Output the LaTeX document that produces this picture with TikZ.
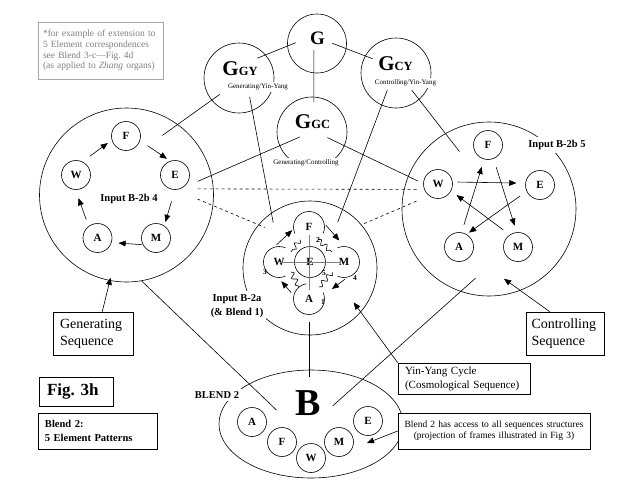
\documentclass[tikz,border=0pt]{standalone}
\usepackage{fontspec}
\setmainfont{Liberation Serif}
\usetikzlibrary{arrows,shapes,decorations.pathmorphing}
\newcommand{\gname}[1]{\textbf{\fontsize{21}{21}\selectfont G\fontsize{12.5}{12.5}\selectfont #1}}

\begin{document}
\begin{tikzpicture}[x=1pt, y=-1pt, line width=0.6pt,
    zone/.style={circle, draw, inner sep=0pt},
    elem/.style={circle, draw, minimum size=29pt, inner sep=0pt, font=\bfseries\fontsize{11}{11}\selectfont},
    bare/.style={circle, minimum size=31pt, inner sep=0pt, outer sep=0pt, font=\bfseries\fontsize{11}{11}\selectfont},
    tag/.style={fill=white, inner sep=2pt, font=\fontsize{7}{8}\selectfont},
    head/.style={fill=white, inner sep=3pt, align=center, font=\bfseries\fontsize{10.5}{14}\selectfont},
    box/.style={draw, fill=white, align=left, inner ysep=0pt},
    num/.style={inner sep=0pt, font=\bfseries\fontsize{7.5}{8}\selectfont},
    flow/.style={-triangle 45},
    wave/.style={decorate, decoration={snake, amplitude=2.5pt, segment length=7.5pt}}]
    \useasboundingbox (0,0) rectangle (638,493);

    % generic spaces
    \node[zone, minimum size=59pt] (G) at (317,43.5) {};
    \node[zone, minimum size=70pt] (GGY) at (239,78) {};
    \node[zone, minimum size=70pt] (GCY) at (396,73) {};
    \node[zone, minimum size=70pt] (GGC) at (312,132) {};
    \node[font=\bfseries\fontsize{19}{19}\selectfont] (Gt) at (317.5,38.5) {G};
    \node (GGYt) at (240,69) {\gname{GY}};
    \node (GCYt) at (395.5,64) {\gname{CY}};
    \node (GGCt) at (312.5,122) {\gname{GC}};

    % input spaces and blend
    \node[zone, minimum size=174pt] (L) at (126.5,195) {};
    \node[zone, minimum size=174pt] (R) at (489,209) {};
    \node[zone, minimum size=134pt] (C) at (310,268) {};
    \node[ellipse, draw, minimum width=184pt, minimum height=108pt, inner sep=0pt] (B2) at (311,424) {};
    \node[inner sep=0pt, font=\bfseries\fontsize{38}{38}\selectfont] (Bt) at (308,403) {B};

    % generating sequence
    \node[elem] (LF) at (126,136) {F};
    \node[elem] (LE) at (175,175) {E};
    \node[elem] (LW) at (76,175) {W};
    \node[elem] (LA) at (97.5,238) {A};
    \node[elem] (LM) at (156,238) {M};
    \path[flow] (LW.64) edge[shorten <=9pt, shorten >=5pt] (LF.196)
          (LF.342) edge[shorten <=9pt, shorten >=4pt] (LE.109)
          (LE.270) edge[shorten <=12pt, shorten >=4pt] (LM.56)
          (LM.207) edge[shorten <=1pt, shorten >=7pt] (LA.342)
          (LA.127) edge[shorten <=7pt, shorten >=9pt] (LW.268);

    % controlling sequence
    \node[elem] (RF) at (488,145) {F};
    \node[elem] (RW) at (438,184) {W};
    \node[elem] (RE) at (540,185) {E};
    \node[elem] (RA) at (459,247) {A};
    \node[elem] (RM) at (518,247) {M};
    \path[flow] (RW.8) edge[shorten <=5pt, shorten >=9pt] (RE.173)
          (RE.205) edge[shorten <=8pt, shorten >=3pt] (RA.59)
          (RA.80) edge[shorten <=8pt, shorten >=8pt] (RF.255)
          (RF.292) edge[shorten <=9pt, shorten >=7pt] (RM.95)
          (RM.124) edge[shorten <=8pt, shorten >=7pt] (RW.332);

    % yin-yang cycle
    \node[bare] (CF) at (309,227) {F};
    \node[bare] (CW) at (279,262) {W};
    \node[bare] (CM) at (344,262) {M};
    \node[bare] (CA) at (309,299) {A};
    \node[elem, minimum size=31pt] (CE) at (310,262) {E};
    \draw (CF.-25) arc[start angle=25, end angle=-205, radius=15.5];
    \draw (CW.65) arc[start angle=-65, end angle=-295, radius=15.5];
    \draw (CM.-115) arc[start angle=115, end angle=-115, radius=15.5];
    \draw (CA.100) arc[start angle=-100, end angle=-385, radius=15.5];
    \draw[gray, shorten <=1pt, shorten >=4pt] (CW.center) -- (CM.center);
    \draw[gray, shorten <=8pt, shorten >=9pt] (CF.center) -- (CA.center);
    \draw[wave] (CF.235) -- (CW.40);
    \draw[wave] (CF.305) -- (CM.140);
    \draw[wave] (CW.-40) -- (CA.130);
    \draw[wave] (CM.220) -- (CA.50);
    \path[flow] (CW.110) edge[shorten <=4pt, shorten >=2pt] (CF.187)
          (CF.15) edge[shorten <=3pt, shorten >=8pt] (CM.88)
          (CM.285) edge[shorten <=4pt, shorten >=10pt] (CA.15)
          (CA.168) edge[shorten <=4pt, shorten >=5pt] (CW.267);
    \node[num] (n2) at (318,240) {2};
    \node[num] (n3) at (265,272) {3};
    \node[num] (n5) at (324,273) {5};
    \node[num] (n4) at (355,278) {4};
    \node[num] (n1) at (323,302) {1};

    % blend elements
    \node[elem] (BA) at (252,422) {A};
    \node[elem] (BF) at (282,442) {F};
    \node[elem] (BW) at (311,458) {W};
    \node[elem] (BM) at (339,442) {M};
    \node[elem] (BE) at (368,421) {E};

    % projections
    \draw[shorten <=-9pt, shorten >=-9pt] (GGY.41) -- (G.185);
    \draw[shorten <=-15pt, shorten >=-8pt] (G.350) -- (GCY.151);
    \draw[shorten <=-23pt, shorten >=-5pt] (G.264) -- (GGC.87);
    \draw[shorten <=-10pt, shorten >=-19pt] (GGY.219) -- (L.54);
    \draw[shorten <=-14pt, shorten >=-10pt] (GGY.292) -- (C.125);
    \draw[shorten <=-22pt, shorten >=-15pt] (GGC.203) -- (L.13);
    \draw[shorten <=-19pt, shorten >=-11pt] (GGC.337) -- (R.158);
    \draw[shorten <=-16pt, shorten >=-14pt] (GCY.246) -- (C.61);
    \draw[shorten <=-12pt, shorten >=-23pt] (GCY.311) -- (R.120);
    \draw[shorten >=-38pt] (L.280) -- (B2.147);
    \draw[shorten <=7pt, shorten >=-7pt] (CA.south) -- (CA.south |- B2.north);
    \draw[shorten <=-20pt, shorten >=-40pt] (R.251) -- (B2.41);
    \draw[dashed, shorten <=-16pt, shorten >=-14pt] (L.4) -- (R.167);
    \draw[dashed, shorten <=-17pt, shorten >=-7pt] (L.353) -- (C.140);
    \draw[dashed, shorten <=-16pt, shorten >=-1pt] (R.179) -- (C.40);

    % labels
    \node[tag] (GGYl) at (258,87) {Generating/Yin-Yang};
    \node[tag] (GCYl) at (405.5,82.7) {Controlling/Yin-Yang};
    \node[tag] (GGCl) at (306,162.7) {Generating/Controlling};
    \node[head, fill=none] (Ll) at (129,199) {Input B-2b 4};
    \node[head] (Rl) at (557,145) {Input B-2b 5};
    \node[head] (Cl) at (237,306) {Input B-2a\\(\& Blend 1)};
    \node[head] (Bl) at (217,395) {BLEND 2};

    % boxes
    \node[box, draw=gray!70, text=gray, text width=115pt, inner xsep=5pt, minimum height=57pt,
          font=\fontsize{9.5}{10.7}\selectfont] (note) at (100.5,50.5)
          {*for example of extension to\\5 Element correspondences\\see Blend 3-c---Fig.\ 4d\\(as applied to \emph{Zhang} organs)};
    \node[box, text width=66pt, inner xsep=7pt, minimum height=43pt, font=\fontsize{14}{17}\selectfont] (GenSeq) at (93,333.5) {Generating\\Sequence};
    \node[box, text width=67pt, inner xsep=5.5pt, minimum height=43pt, font=\fontsize{14}{17}\selectfont] (CtlSeq) at (565,333.5) {Controlling\\Sequence};
    \node[box, text width=118pt, inner xsep=7pt, minimum height=31pt, font=\fontsize{11}{14}\selectfont] (YYBox) at (464,378.5) {Yin-Yang Cycle\\(Cosmological Sequence)};
    \node[box, align=center, text width=186pt, inner xsep=3pt, minimum height=36pt, font=\fontsize{9.5}{11}\selectfont] (AccBox) at (494,431)
          {Blend 2 has access to all sequences structures\\(projection of frames illustrated in Fig 3)};
    \node[box, text width=58pt, inner xsep=8pt, minimum height=29pt, font=\bfseries\fontsize{17}{17}\selectfont] (FigBox) at (76,391.5) {Fig.\ 3h};
    \node[box, text width=105pt, inner xsep=7pt, minimum height=36pt, font=\bfseries\fontsize{10.5}{13.4}\selectfont] (BlendBox) at (97.5,431) {Blend 2:\\5 Element Patterns};

    \coordinate (accTip) at (367,443);
    \draw[flow, shorten >=-3pt] (GenSeq.67) -- (L.259);
    \draw[flow, shorten >=-20pt] (CtlSeq.125) -- (R.291);
    \draw[flow, shorten >=-12pt] (YYBox.north west) -- (C.319);
    \draw[flow] (AccBox.west) -- (accTip);
\end{tikzpicture}
\end{document}
